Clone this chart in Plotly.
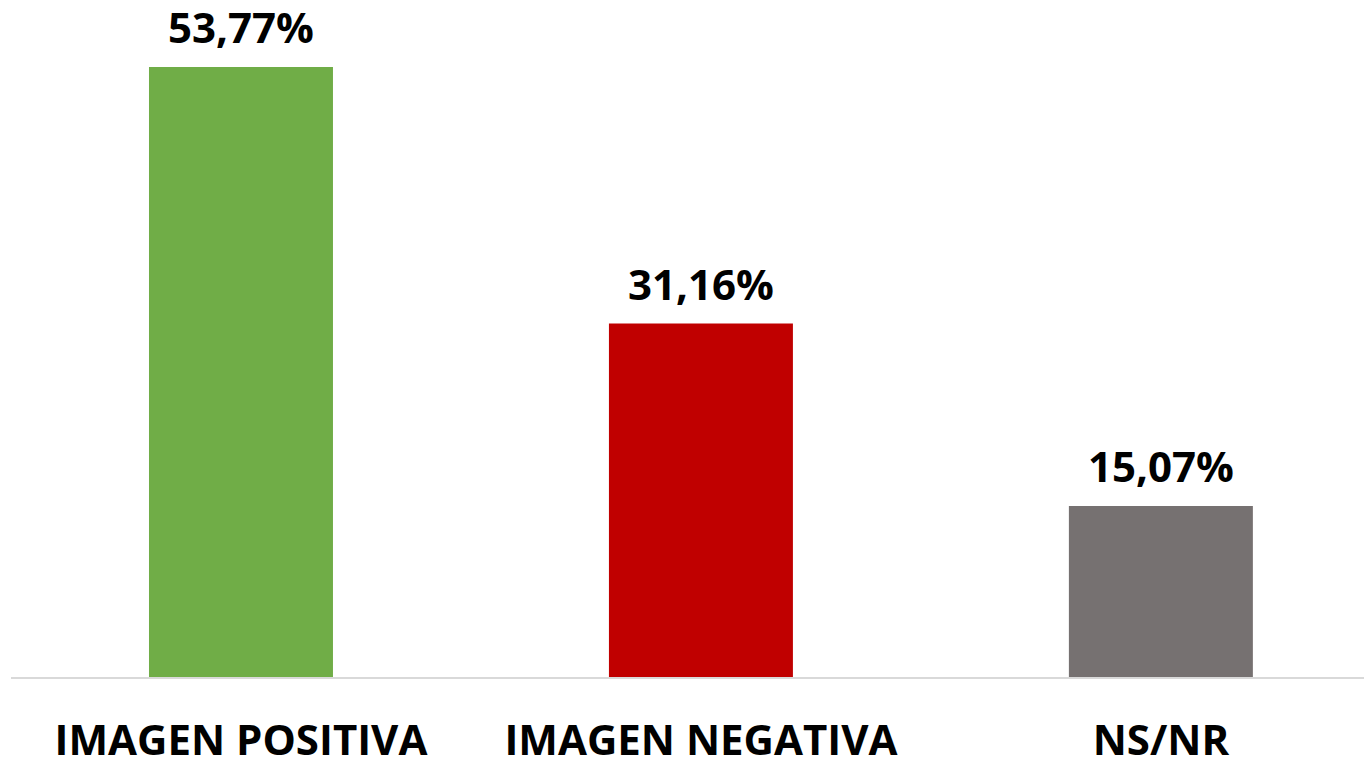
import plotly.graph_objects as go

categories = ["IMAGEN POSITIVA", "IMAGEN NEGATIVA", "NS/NR"]
values = [53.77, 31.16, 15.07]
labels = ["53,77%", "31,16%", "15,07%"]
colors = ["#70AD47", "#C00000", "#767171"]

FONT = "Open Sans"

fig = go.Figure(
    go.Bar(
        x=categories,
        y=values,
        marker=dict(color=colors, line=dict(width=0)),
        width=0.4,
        cliponaxis=False,
    )
)

for c, v, t in zip(categories, values, labels):
    fig.add_annotation(
        x=c, y=v, text=t, showarrow=False,
        xanchor="center", yanchor="bottom", yshift=10,
        font=dict(family=FONT, size=42, color="#000000", weight="bold"),
    )

fig.update_layout(
    width=1364,
    height=752,
    margin=dict(l=3, r=0, t=2, b=83, autoexpand=False),
    paper_bgcolor="white",
    plot_bgcolor="white",
    showlegend=False,
    xaxis=dict(
        range=[-0.5, 2.459],
        automargin=False,
        showline=True,
        linecolor="#d9d9d9",
        linewidth=2,
        showgrid=False,
        zeroline=False,
        ticks="outside",
        ticklen=26,
        tickcolor="rgba(0,0,0,0)",
        tickfont=dict(family=FONT, size=42, color="#000000", weight="bold"),
    ),
    yaxis=dict(
        range=[0, 58.8],
        automargin=False,
        visible=False,
        showgrid=False,
        zeroline=False,
    ),
)

fig.write_html("out.html")
